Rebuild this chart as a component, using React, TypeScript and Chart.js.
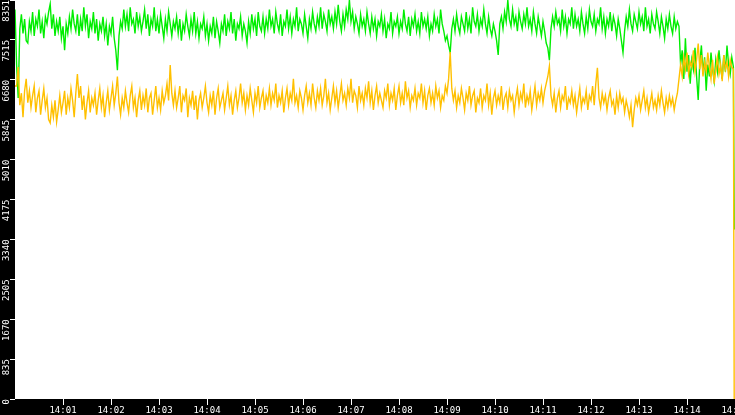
import React, { useEffect, useRef } from "react";
import { Chart, registerables } from "chart.js";

Chart.register(...registerables);

// one sample every 2 seconds from 14:00:00
const sampleStep = 2;

const greenValues = [
  8150, 7000, 6300, 7750, 8050, 7650, 7950, 7500, 7450, 7900,
  7700, 8100, 7600, 7950, 7800, 8150, 7650, 7900, 7550, 8000,
  7850, 8100, 8270, 7750, 8050, 7600, 7900, 7700, 8000, 7550,
  7800, 7300, 7850, 7650, 8000, 7750, 8150, 7850, 7700, 8050,
  7600, 7950, 7700, 8200, 7800, 8050, 7550, 7900, 7750, 8100,
  7650, 7950, 7500, 7850, 7700, 8000, 7600, 7850, 7400, 7800,
  7650, 8000, 7550, 7300, 6880, 7600, 7900, 7750, 8150, 7800,
  8050, 7700, 8200, 7850, 7950, 7650, 8100, 7800, 8000, 7700,
  7900, 8150, 7750, 8050, 7600, 7950, 7800, 8200, 7700, 7950,
  7650, 8050, 7800, 7550, 7950, 7700, 8100, 7850, 7600, 7900,
  7750, 8000, 7650, 7950, 7500, 7850, 7700, 8050, 7800, 7600,
  7950, 7700, 8100, 7650, 7900, 7550, 7850, 7750, 8000, 7600,
  7850, 7500, 7800, 7650, 8000, 7550, 7900, 7700, 7450, 7850,
  7700, 8050, 7600, 7900, 7750, 8100, 7650, 7950, 7500, 7850,
  7750, 8000, 7600, 7850, 7700, 7450, 7900, 7650, 8050, 7750,
  7950, 7600, 8100, 7800, 7700, 8000, 7650, 7950, 7750, 8150,
  7800, 7950, 7650, 8100, 7850, 7700, 8050, 7600, 7900, 7800,
  8150, 7750, 8000, 7650, 7950, 7800, 8200, 7700, 7950, 7850,
  7650, 8050, 7800, 7550, 7950, 7750, 8100, 7850, 7700, 8000,
  7800, 8200, 7750, 8050, 7900, 7700, 8150, 7850, 8000, 7750,
  8100, 7850, 8250, 7900, 7700, 8050, 7800, 8150, 7950, 8351,
  7900, 8100, 7750, 8000, 7850, 7650, 8050, 7800, 7950, 7700,
  8100, 7850, 7650, 8000, 7750, 7950, 7600, 7900, 7800, 8050,
  7700, 7950, 7550, 7850, 7750, 8100, 7650, 7900, 7800, 8000,
  7650, 7900, 7750, 8150, 7850, 7700, 8000, 7600, 7950, 7800,
  8050, 7700, 7900, 7650, 8100, 7800, 7950, 7750, 8000, 7600,
  7850, 7700, 8050, 7800, 7950, 7650, 8150, 7850, 7700, 7500,
  7600, 7400, 7250, 7750, 7950, 7700, 8050, 7800, 7650, 8000,
  7850, 7700, 8100, 7750, 7950, 7650, 8200, 7900, 7800, 8050,
  7700, 7950, 7800, 8150, 7850, 7650, 8000, 7750, 7600, 7850,
  7700, 7500, 7200, 7850, 8000, 7750, 8100, 7900, 8351, 7950,
  7800, 8150, 7850, 8000, 7700, 8100, 7900, 7750, 8050, 7850,
  8200, 7800, 7950, 7700, 8100, 7850, 7650, 8000, 7800, 7600,
  7900, 7700, 7450, 7350, 7090, 7750, 8000, 7800, 8100, 7850,
  7950, 7700, 8150, 7800, 8000, 7650, 7950, 7850, 8200, 7750,
  8050, 7800, 7950, 7700, 8100, 7850, 7650, 8000, 7750, 8150,
  7900, 7800, 8050, 7700, 7950, 7850, 8200, 7750, 8000, 7650,
  7950, 7800, 8100, 7700, 8000, 7850, 7600, 7950, 7750, 7500,
  7250, 7700, 8000, 7800, 8150, 7850, 7700, 8050, 7900, 7750,
  8100, 7850, 8000, 7700, 8200, 7800, 7950, 7650, 8050, 7850,
  7750, 8100, 7900, 7650, 8000, 7800, 7550, 7950, 7750, 8050,
  7800, 7650, 8000, 7750, 7900, 7800,
  7000, 7300, 6700, 7550, 6850, 7200, 6600, 7100, 6900, 7350,
  6750, 6260, 7050, 7400, 6800, 7150, 6450, 7000, 6750, 7250,
  6900, 6650, 7100, 6850, 7300, 6950, 6700, 7200, 6850, 7400,
  7000, 6800, 7150, 6950,
];

const yellowValues = [
  6550, 6550, 6950, 6150, 6400, 5900, 6450, 6700, 6200, 6450,
  6100, 6350, 6550, 6000, 6300, 6450, 5950, 6250, 6500, 6100,
  6300, 5850, 5780, 6150, 5900, 6250, 5800, 6050, 6350, 6000,
  6200, 6450, 5950, 6300, 6100, 6500, 6250, 5900, 6400, 6800,
  6300, 6550, 6050, 6350, 5850, 6200, 6450, 6000, 6300, 6150,
  6400, 5950, 6250, 6500, 6100, 6350, 5900, 6200, 6450, 6050,
  6300, 6550, 6150, 6400, 6750, 6200, 5950, 6300, 6100, 6450,
  6200, 6000, 6350, 6550, 6100, 6300, 5900, 6250, 6450, 6050,
  6350, 6150, 6500, 6000, 6300, 6400, 5950, 6250, 6550, 6100,
  6300, 6050, 6450, 6200, 6350, 6600, 6250, 6990, 6400, 6150,
  6450, 6100, 6300, 6550, 6000, 6350, 6250, 6500, 5900, 6300,
  6150, 6450, 6050, 6350, 5850, 6250, 6400, 6100, 6300, 6550,
  6200, 6000, 6350, 6150, 6450, 5950, 6300, 6500, 6100, 6250,
  6400, 6050, 6300, 6550, 6150, 6350, 5950, 6250, 6450, 6100,
  6300, 6600, 6200, 6400, 6050, 6350, 6150, 6500, 6250, 6000,
  6400, 6200, 6550, 6100, 6300, 6450, 6050, 6350, 6200, 6500,
  6150, 6400, 6250, 6600, 6100, 6350, 6200, 6450, 6000, 6300,
  6500, 6150, 6400, 6250, 6700, 6200, 6350, 6100, 6450, 6300,
  6050, 6350, 6550, 6200, 6400, 6150, 6600, 6300, 6100, 6450,
  6250, 6500, 6150, 6350, 6700, 6200, 6400, 6050, 6300, 6550,
  6200, 6450, 6100, 6350, 6600, 6250, 6400, 6150, 6500, 6300,
  6700, 6200, 6450, 6350, 6100, 6550, 6250, 6400, 6150, 6500,
  6300, 6650, 6200, 6450, 6050, 6350, 6550, 6200, 6400, 6250,
  6100, 6450, 6300, 6600, 6150, 6400, 6250, 6500, 6050, 6350,
  6550, 6200, 6400, 6150, 6650, 6300, 6450, 6100, 6350, 6250,
  6500, 6150, 6400, 6300, 6600, 6200, 6450, 6050, 6350, 6500,
  6200, 6400, 6150, 6550, 6300, 6450, 6100, 6350, 6250, 6550,
  6400, 6700, 7260, 6500, 6250, 6450, 6100, 6350, 6200, 6500,
  6300, 6050, 6400, 6250, 6550, 6150, 6350, 6450, 6000, 6300,
  6200, 6500, 6100, 6350, 6250, 6600, 6150, 6400, 5950, 6300,
  6450, 6150, 6350, 6200, 6550, 6050, 6300, 6400, 6100, 6450,
  6250, 6350, 6000, 6300, 6500, 6150, 6400, 6250, 6600, 6100,
  6350, 6200, 6450, 6050, 6300, 6550, 6150, 6400, 6250, 6500,
  6200, 6450, 6600, 6750, 6970, 6350, 6150, 6400, 6000, 6300,
  6450, 6100, 6350, 6250, 6550, 6050, 6300, 6200, 6450, 6150,
  6350, 6000, 6250, 6500, 6100, 6300, 6200, 6450, 6050, 6350,
  6250, 6550, 6150, 6600, 6930, 6300, 6100, 6400, 6200, 6350,
  6050, 6300, 6450, 6150, 6250, 5950, 6350, 6100, 6400, 6200,
  6300, 6000, 6250, 6100, 5900, 6150, 5690, 6050, 6300, 6150,
  6350, 6050, 6250, 6450, 6100, 6300, 6000, 6200, 6400, 6100,
  6250, 6050, 6350, 6150, 6450, 6200, 6000, 6300, 6100, 6350,
  6150, 6300, 6050, 6250, 6400, 6700,
  7000, 6750, 7150, 6900, 7250, 6800, 7050, 6950, 7300, 6850,
  7100, 7440, 6900, 7200, 6750, 7050, 6850, 7250, 6950, 6700,
  7100, 6600, 6900, 7150, 6800, 7000, 6650, 7200, 6900, 7050,
  6750, 7100, 6950, 6900,
];

// final sample just before 14:15, where both feeds collapse
const lastSecond = 899;
const greenLast = 3550;
const yellowLast = 0;

const yTickValues = [0, 835, 1670, 2505, 3340, 4175, 5010, 5845, 6680, 7515, 8351];
const xTickSeconds = [60, 120, 180, 240, 300, 360, 420, 480, 540, 600, 660, 720, 780, 840, 900];
const xTickLabels = [
  "14:01", "14:02", "14:03", "14:04", "14:05", "14:06", "14:07", "14:08",
  "14:09", "14:10", "14:11", "14:12", "14:13", "14:14", "14:15",
];

const toPoints = (values: number[], last: number) => {
  const pts = values.map((v, i) => ({ x: i * sampleStep, y: v }));
  pts.push({ x: lastSecond, y: last });
  return pts;
};

const tickFont = { family: "DejaVu Sans Mono", size: 9, lineHeight: 1 };

// black frame around a white plot area
const backdrop = {
  id: "backdrop",
  beforeDraw(chart: any) {
    const { ctx, chartArea, width, height } = chart;
    ctx.save();
    ctx.fillStyle = "#000";
    ctx.fillRect(0, 0, width, height);
    ctx.fillStyle = "#fff";
    ctx.fillRect(
      chartArea.left,
      chartArea.top,
      chartArea.right - chartArea.left,
      chartArea.bottom - chartArea.top
    );
    ctx.restore();
  },
};

const App: React.FC = () => {
  const chartRef = useRef<HTMLCanvasElement | null>(null);
  const chartInstance = useRef<Chart | null>(null);

  useEffect(() => {
    if (!chartRef.current) return;
    if (chartInstance.current) chartInstance.current.destroy();

    chartInstance.current = new Chart(chartRef.current, {
      type: "line",
      data: {
        datasets: [
          {
            label: "yellow",
            data: toPoints(yellowValues, yellowLast),
            borderColor: "#ffc000",
            borderWidth: 1.4,
            pointRadius: 0,
            tension: 0,
          },
          {
            label: "green",
            data: toPoints(greenValues, greenLast),
            borderColor: "#00ee00",
            borderWidth: 1.4,
            pointRadius: 0,
            tension: 0,
          },
        ],
      },
      options: {
        animation: false,
        responsive: true,
        maintainAspectRatio: false,
        layout: { padding: 0 },
        plugins: {
          legend: { display: false },
          tooltip: { enabled: false },
        },
        scales: {
          x: {
            type: "linear",
            min: 0,
            max: 900,
            border: { display: false },
            grid: {
              drawOnChartArea: false,
              color: "#fff",
              tickLength: 6,
            },
            ticks: {
              color: "#fff",
              font: tickFont,
              padding: 1,
              autoSkip: false,
              maxRotation: 0,
              callback: (v: any) => {
                const k = xTickSeconds.indexOf(Number(v));
                return k >= 0 ? xTickLabels[k] : "";
              },
            },
            afterBuildTicks: (scale: any) => {
              scale.ticks = xTickSeconds.map((s) => ({ value: s }));
            },
            afterFit: (scale: any) => {
              scale.height = 16;
              scale.paddingLeft = 0;
              scale.paddingRight = 0;
            },
          },
          y: {
            type: "linear",
            min: 0,
            max: 8351,
            border: { display: false },
            grid: {
              drawOnChartArea: false,
              color: "#fff",
              tickLength: 5,
            },
            ticks: {
              color: "#fff",
              font: tickFont,
              padding: 3,
              autoSkip: false,
              minRotation: 90,
              maxRotation: 90,
              callback: (v: any) => String(v),
            },
            afterBuildTicks: (scale: any) => {
              scale.ticks = yTickValues.map((v) => ({ value: v }));
            },
            afterFit: (scale: any) => {
              scale.width = 15;
              scale.paddingTop = 0;
              scale.paddingBottom = 0;
            },
          },
        },
      },
      plugins: [backdrop],
    });

    return () => {
      if (chartInstance.current) {
        chartInstance.current.destroy();
        chartInstance.current = null;
      }
    };
  }, []);

  return (
    <div
      style={{
        position: "fixed",
        left: 0,
        top: 0,
        width: 735,
        height: 415,
        background: "#000",
      }}
    >
      <canvas ref={chartRef} />
    </div>
  );
};

export default App;
